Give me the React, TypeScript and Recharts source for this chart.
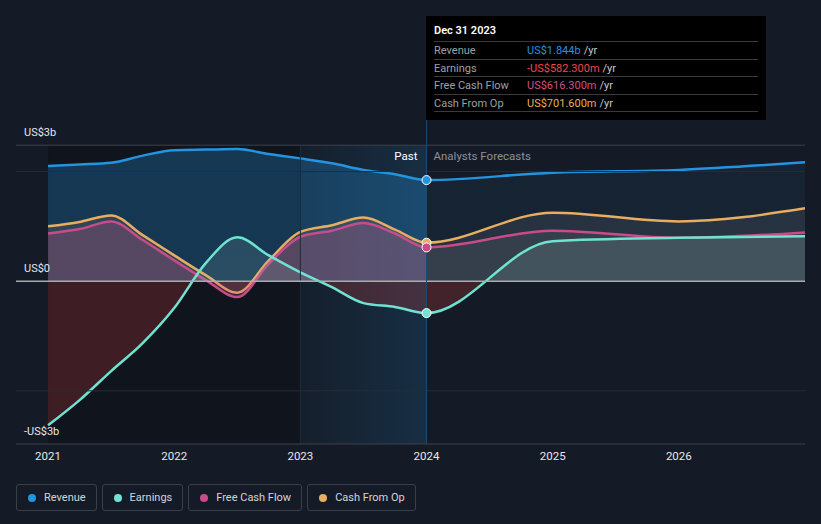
import React from 'react';
import { ComposedChart, Area, XAxis, YAxis, ReferenceLine, ReferenceArea } from 'recharts';

// quarterly history, yearly forecast (values in US$ billions)
const years = [2021, 2021.25, 2021.5, 2021.75, 2022, 2022.25, 2022.5, 2022.75, 2023, 2023.25, 2023.5, 2023.75, 2024, 2025, 2026, 2027];
const revenue = [2.1, 2.13, 2.16, 2.29, 2.39, 2.4, 2.41, 2.32, 2.24, 2.15, 2.03, 1.95, 1.844, 1.98, 2.03, 2.17];
const earnings = [-2.63, -2.17, -1.64, -1.13, -0.49, 0.33, 0.8, 0.47, 0.16, -0.11, -0.4, -0.47, -0.5823, 0.73, 0.79, 0.82];
const freeCashFlow = [0.87, 0.95, 1.09, 0.75, 0.38, 0.02, -0.29, 0.32, 0.81, 0.92, 1.06, 0.87, 0.6163, 0.92, 0.79, 0.89];
const cashFromOp = [1.0, 1.08, 1.2, 0.84, 0.47, 0.11, -0.21, 0.38, 0.9, 1.02, 1.16, 0.94, 0.7016, 1.25, 1.09, 1.33];

const xTicks = [2021, 2022, 2023, 2024, 2025, 2026];
const yTicks = [-2.97, 0, 2.48];
const yTickLabels = ['-US$3b', 'US$0', 'US$3b'];
const gridValues = [-2, 2];
const nowYear = 2024;
const pastStart = 2023;

const tooltipDate = 'Dec 31 2023';
const tooltipRows = [
  { name: 'Revenue', value: 'US$1.844b', color: '#2394df' },
  { name: 'Earnings', value: '-US$582.300m', color: '#f04848' },
  { name: 'Free Cash Flow', value: 'US$616.300m', color: '#d0508a' },
  { name: 'Cash From Op', value: 'US$701.600m', color: '#eaae5a' },
];

const legendItems = [
  { name: 'Revenue', color: '#2394df' },
  { name: 'Earnings', color: '#6fe3d2' },
  { name: 'Free Cash Flow', color: '#c94c8a' },
  { name: 'Cash From Op', color: '#e8ad60' },
];

const data = years.map((year, i) => ({
  year,
  revenue: revenue[i],
  earnings: earnings[i],
  freeCashFlow: freeCashFlow[i],
  cashFromOp: cashFromOp[i],
}));

const nowDot = (color: string) => (props: any) => {
  const { cx, cy, payload, index } = props;
  if (payload.year !== nowYear) return <g key={`d-${index}`} />;
  return <circle key={`d-${index}`} cx={cx} cy={cy} r={4.5} fill={color} stroke="#fff" strokeWidth={1} />;
};

const yLabel = (text: string) => (props: any) => {
  const { viewBox } = props;
  return (
    <text x={viewBox.x + 8} y={viewBox.y - 9} fill="#e4e6ea" fontSize={11} textAnchor="start">
      {text}
    </text>
  );
};

const nowLabel = (props: any) => {
  const { viewBox } = props;
  return (
    <g>
      <text x={viewBox.x - 9} y={viewBox.y + 40} fill="#ffffff" fontSize={11.5} textAnchor="end">Past</text>
      <text x={viewBox.x + 7} y={viewBox.y + 40} fill="#8c9098" fontSize={11.5} textAnchor="start">Analysts Forecasts</text>
    </g>
  );
};

export default function App() {
  const top = yTicks[yTicks.length - 1];
  const bottom = yTicks[0];
  return (
    <div style={{ position: 'absolute', left: 0, top: 0, width: 821, height: 524, background: '#151b26', fontFamily: 'Roboto, sans-serif' }}>
      <ComposedChart width={821} height={524} data={data} margin={{ top: 120, right: 16, bottom: 50, left: 16 }}>
        <defs>
          <linearGradient id="pastGrad" x1="0" y1="0" x2="1" y2="0">
            <stop offset="0" stopColor="#2394df" stopOpacity={0.03} />
            <stop offset="1" stopColor="#2394df" stopOpacity={0.16} />
          </linearGradient>
          <linearGradient id="revFill" x1="0" y1="0" x2="1" y2="0">
            <stop offset="0" stopColor="#2394df" stopOpacity={0.28} />
            <stop offset="0.5" stopColor="#2394df" stopOpacity={0.28} />
            <stop offset="0.5" stopColor="#2394df" stopOpacity={0.07} />
            <stop offset="1" stopColor="#2394df" stopOpacity={0.07} />
          </linearGradient>
          <linearGradient id="cfoFill" x1="0" y1="0" x2="1" y2="0">
            <stop offset="0" stopColor="#e8ad60" stopOpacity={0.12} />
            <stop offset="0.5" stopColor="#e8ad60" stopOpacity={0.12} />
            <stop offset="0.5" stopColor="#a0a0a0" stopOpacity={0.12} />
            <stop offset="1" stopColor="#a0a0a0" stopOpacity={0.12} />
          </linearGradient>
          <linearGradient id="fcfFill" x1="0" y1="0" x2="1" y2="0">
            <stop offset="0" stopColor="#c94c8a" stopOpacity={0.25} />
            <stop offset="0.5" stopColor="#c94c8a" stopOpacity={0.25} />
            <stop offset="0.5" stopColor="#b0b0b0" stopOpacity={0.1} />
            <stop offset="1" stopColor="#b0b0b0" stopOpacity={0.1} />
          </linearGradient>
          <linearGradient id="earnFill" x1="0" y1="120" x2="0" y2="444" gradientUnits="userSpaceOnUse">
            <stop offset="0" stopColor="#8fb8b6" stopOpacity={0.16} />
            <stop offset="0.5" stopColor="#8fb8b6" stopOpacity={0.16} />
            <stop offset="0.5" stopColor="#c83a3a" stopOpacity={0.25} />
            <stop offset="1" stopColor="#c83a3a" stopOpacity={0.25} />
          </linearGradient>
        </defs>
        <XAxis
          type="number"
          dataKey="year"
          domain={[2020.746, 2027]}
          ticks={xTicks}
          allowDataOverflow
          tickLine={false}
          axisLine={{ stroke: '#3d434d' }}
          tick={{ fill: '#e6e8ec', fontSize: 11.5 }}
          height={30}
        />
        <YAxis type="number" domain={[-2.97, 2.94]} allowDataOverflow hide />
        <ReferenceArea x1={2021} x2={pastStart} y1={bottom} y2={top} fill="#0a0d12" fillOpacity={0.45} stroke="none" />
        <ReferenceArea x1={pastStart} x2={nowYear} y1={bottom} y2={top} fill="url(#pastGrad)" fillOpacity={1} stroke="none" />
        <ReferenceLine segment={[{ x: pastStart, y: bottom }, { x: pastStart, y: top }]} stroke="#1d2b3a" />
        {gridValues.map((v) => (
          <ReferenceLine key={v} y={v} stroke="#262d38" />
        ))}
        <ReferenceLine y={top} stroke="#3a404a" />
        <Area type="monotone" dataKey="revenue" stroke="#2394df" strokeWidth={2.5} fill="url(#revFill)" fillOpacity={1} dot={nowDot('#2394df')} activeDot={false} isAnimationActive={false} />
        <Area type="monotone" dataKey="cashFromOp" stroke="#e8ad60" strokeWidth={2.5} fill="url(#cfoFill)" fillOpacity={1} dot={nowDot('#e8ad60')} activeDot={false} isAnimationActive={false} />
        <Area type="monotone" dataKey="freeCashFlow" stroke="#c94c8a" strokeWidth={2.5} fill="url(#fcfFill)" fillOpacity={1} dot={nowDot('#c94c8a')} activeDot={false} isAnimationActive={false} />
        <Area type="monotone" dataKey="earnings" stroke="#6fe3d2" strokeWidth={2.5} fill="url(#earnFill)" fillOpacity={1} dot={nowDot('#6fe3d2')} activeDot={false} isAnimationActive={false} />
        <ReferenceLine y={0} stroke="#a9abb0" strokeWidth={1.5} />
        <ReferenceLine x={nowYear} stroke="#1f4a6e" label={nowLabel} />
        {yTicks.map((v, i) => (
          <ReferenceLine key={`yl-${v}`} y={v} stroke="none" strokeOpacity={0} label={yLabel(yTickLabels[i])} />
        ))}
      </ComposedChart>

      <div style={{ position: 'absolute', left: 426, top: 16, width: 340, height: 104, background: '#000', boxSizing: 'border-box', padding: '0 8px', fontSize: 11 }}>
        <div style={{ height: 25, lineHeight: '30px', color: '#fff', fontWeight: 600 }}>{tooltipDate}</div>
        {tooltipRows.map((r) => (
          <div key={r.name} style={{ display: 'flex', height: 17.5, lineHeight: '17px', borderTop: '1px solid #3a3a3a', boxSizing: 'border-box' }}>
            <span style={{ width: 93, color: '#9ba0a6' }}>{r.name}</span>
            <span style={{ color: r.color }}>{r.value}</span>
            <span style={{ color: '#c8cacd', marginLeft: 3 }}>/yr</span>
          </div>
        ))}
        <div style={{ borderTop: '1px solid #3a3a3a' }} />
      </div>

      <div style={{ position: 'absolute', left: 16, top: 484, display: 'flex', gap: 5 }}>
        {legendItems.map((it) => (
          <div key={it.name} style={{ height: 27, boxSizing: 'border-box', border: '1px solid #3a3f48', borderRadius: 3, display: 'flex', alignItems: 'center', padding: '0 10px 0 11px', color: '#d2d5da', fontSize: 11 }}>
            <span style={{ width: 8, height: 8, borderRadius: '50%', background: it.color, marginRight: 8 }} />
            {it.name}
          </div>
        ))}
      </div>
    </div>
  );
}
